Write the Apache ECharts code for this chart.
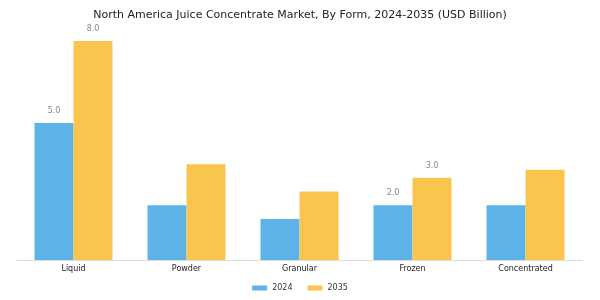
<!DOCTYPE html>
<html>
<head>
<meta charset="utf-8">
<script src="https://cdn.jsdelivr.net/npm/echarts@6/dist/echarts.min.js"></script>
<style>
  html, body { margin: 0; padding: 0; background: #fff; }
  #main { width: 600px; height: 300px; }
</style>
</head>
<body>
<div id="main"></div>
<script>
var categories = ['Liquid', 'Powder', 'Granular', 'Frozen', 'Concentrated'];
var seriesNames = ['2024', '2035'];
var values2024 = [5.0, 2.0, 1.5, 2.0, 2.0];
var values2035 = [8.0, 3.5, 2.5, 3.0, 3.3];
// only these bars carry a value label in the picture
var labelled = ['Liquid', 'Frozen'];

var myChart = echarts.init(document.getElementById('main'));

function buildData(values) {
    var out = [];
    for (let i = 0; i < values.length; i++) {
        var show = labelled.indexOf(categories[i]) >= 0;
        out.push({ value: values[i], label: { show: show } });
    }
    return out;
}

var labelStyle = {
    position: 'top',
    distance: 8,
    color: '#888',
    fontSize: 8,
    fontFamily: 'DejaVu Sans',
    formatter: function (p) { return Number(p.value).toFixed(1); }
};

var option = {
    animation: false,
    title: {
        text: 'North America Juice Concentrate Market, By Form, 2024-2035 (USD Billion)',
        left: 'center',
        top: 5,
        textStyle: { fontSize: 11, fontWeight: 'normal', color: '#222', fontFamily: 'DejaVu Sans' }
    },
    legend: {
        data: seriesNames,
        bottom: 3,
        left: 'center',
        itemWidth: 15,
        itemHeight: 5,
        itemGap: 15,
        icon: 'rect',
        textStyle: { fontSize: 8, color: '#333', fontFamily: 'DejaVu Sans' }
    },
    grid: { left: 17, right: 18, top: 30, bottom: 40 },
    xAxis: {
        type: 'category',
        data: categories,
        axisLine: { lineStyle: { color: '#ddd' } },
        axisTick: { show: false },
        axisLabel: { fontSize: 8, color: '#222', margin: 5, fontFamily: 'DejaVu Sans' }
    },
    yAxis: {
        type: 'value',
        min: 0,
        max: 8.4,
        show: false,
        splitLine: { show: false }
    },
    series: [{
        name: seriesNames[0],
        type: 'bar',
        barWidth: 39,
        barGap: '0%',
        itemStyle: { color: '#5DB3E8' },
        label: labelStyle,
        data: buildData(values2024)
    }, {
        name: seriesNames[1],
        type: 'bar',
        barWidth: 39,
        barGap: '0%',
        itemStyle: { color: '#F9C54E' },
        label: labelStyle,
        data: buildData(values2035)
    }]
};

myChart.setOption(option);
</script>
</body>
</html>
